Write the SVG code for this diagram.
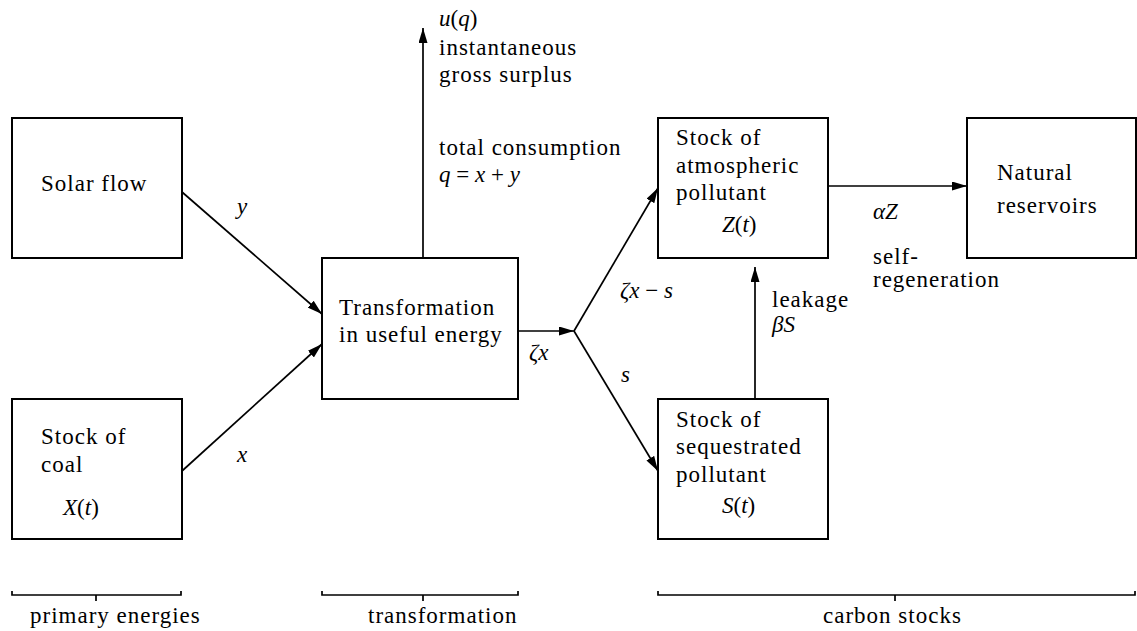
<svg xmlns="http://www.w3.org/2000/svg" width="1137" height="631" viewBox="0 0 1137 631" font-family="Liberation Serif, DejaVu Serif, Noto Serif, Times New Roman, serif">
<style>
  .box { fill: #fff; stroke: #000; stroke-width: 2; }
  .ln { fill: none; stroke: #000; stroke-width: 1.7; }
  .arr { marker-end: url(#ah); }
  text { font-size: 23px; fill: #000; }
  .t { letter-spacing: 1px; }
  .m { font-style: italic; }
  .up { font-style: normal; }
</style>
<defs>
  <marker id="ah" markerUnits="userSpaceOnUse" markerWidth="16" markerHeight="9" refX="15" refY="4.5" orient="auto">
    <path d="M0,0 L15,4.5 L0,9 Z" fill="#000"/>
  </marker>
</defs>
<rect width="1137" height="631" fill="#fff"/>

<g id="connectors">
  <path class="ln arr" d="M182,192 L322,314"/>
  <path class="ln arr" d="M182,471 L322,344"/>
  <path class="ln arr" d="M518,331 L574,331"/>
  <path class="ln arr" d="M574,331 L658,188"/>
  <path class="ln arr" d="M574,331 L658,471"/>
  <path class="ln arr" d="M423,258 L423,28"/>
  <path class="ln arr" d="M828,186 L967,186"/>
  <path class="ln arr" d="M755,399 L755,267"/>
</g>

<g id="node-solar">
  <rect class="box" x="12" y="118" width="170" height="140"/>
  <text class="t" x="41" y="191">Solar flow</text>
</g>
<g id="node-coal">
  <rect class="box" x="12" y="399" width="170" height="140"/>
  <text class="t" x="41" y="444">Stock of</text>
  <text class="t" x="41" y="472">coal</text>
  <text class="m" x="63" y="515">X<tspan class="up">(</tspan>t<tspan class="up">)</tspan></text>
</g>
<g id="node-transformation">
  <rect class="box" x="322" y="258" width="196" height="141"/>
  <text class="t" x="339" y="315">Transformation</text>
  <text class="t" x="339" y="342">in useful energy</text>
</g>
<g id="node-atmospheric">
  <rect class="box" x="658" y="118" width="170" height="140"/>
  <text class="t" x="676" y="145">Stock of</text>
  <text class="t" x="676" y="173">atmospheric</text>
  <text class="t" x="676" y="200">pollutant</text>
  <text class="m" x="722" y="232">Z<tspan class="up">(</tspan>t<tspan class="up">)</tspan></text>
</g>
<g id="node-sequestrated">
  <rect class="box" x="658" y="399" width="170" height="140"/>
  <text class="t" x="676" y="427">Stock of</text>
  <text class="t" x="676" y="454">sequestrated</text>
  <text class="t" x="676" y="482">pollutant</text>
  <text class="m" x="722" y="513">S<tspan class="up">(</tspan>t<tspan class="up">)</tspan></text>
</g>
<g id="node-natural">
  <rect class="box" x="967" y="118" width="169" height="140"/>
  <text class="t" x="997" y="180">Natural</text>
  <text class="t" x="997" y="213">reservoirs</text>
</g>

<g id="labels">
  <text class="m" x="237" y="214">y</text>
  <text class="m" x="237" y="462">x</text>
  <text class="m" x="439" y="26">u<tspan class="up">(</tspan>q<tspan class="up">)</tspan></text>
  <text class="t" x="439" y="55">instantaneous</text>
  <text class="t" x="439" y="82">gross surplus</text>
  <text class="t" x="439" y="155">total consumption</text>
  <text class="m" x="439" y="182">q <tspan class="up">=</tspan> x <tspan class="up">+</tspan> y</text>
  <text class="m" x="529" y="360">ζx</text>
  <text class="m" x="620" y="298">ζx <tspan class="up">−</tspan> s</text>
  <text class="m" x="621" y="382">s</text>
  <text class="m" x="873" y="219">αZ</text>
  <text class="t" x="873" y="264">self-</text>
  <text class="t" x="873" y="287">regeneration</text>
  <text class="t" x="772" y="307">leakage</text>
  <text class="m" x="772" y="332">βS</text>
</g>

<g id="brackets">
  <path class="ln" d="M12,591 L12,595 L181,595 L181,591 M96,595 L96,601"/>
  <path class="ln" d="M322,591 L322,595 L518,595 L518,591 M423,595 L423,601"/>
  <path class="ln" d="M658,591 L658,595 L1135,595 L1135,591 M895,595 L895,601"/>
  <text class="t" x="30" y="623">primary energies</text>
  <text class="t" x="368" y="623">transformation</text>
  <text class="t" x="823" y="623">carbon stocks</text>
</g>
</svg>
